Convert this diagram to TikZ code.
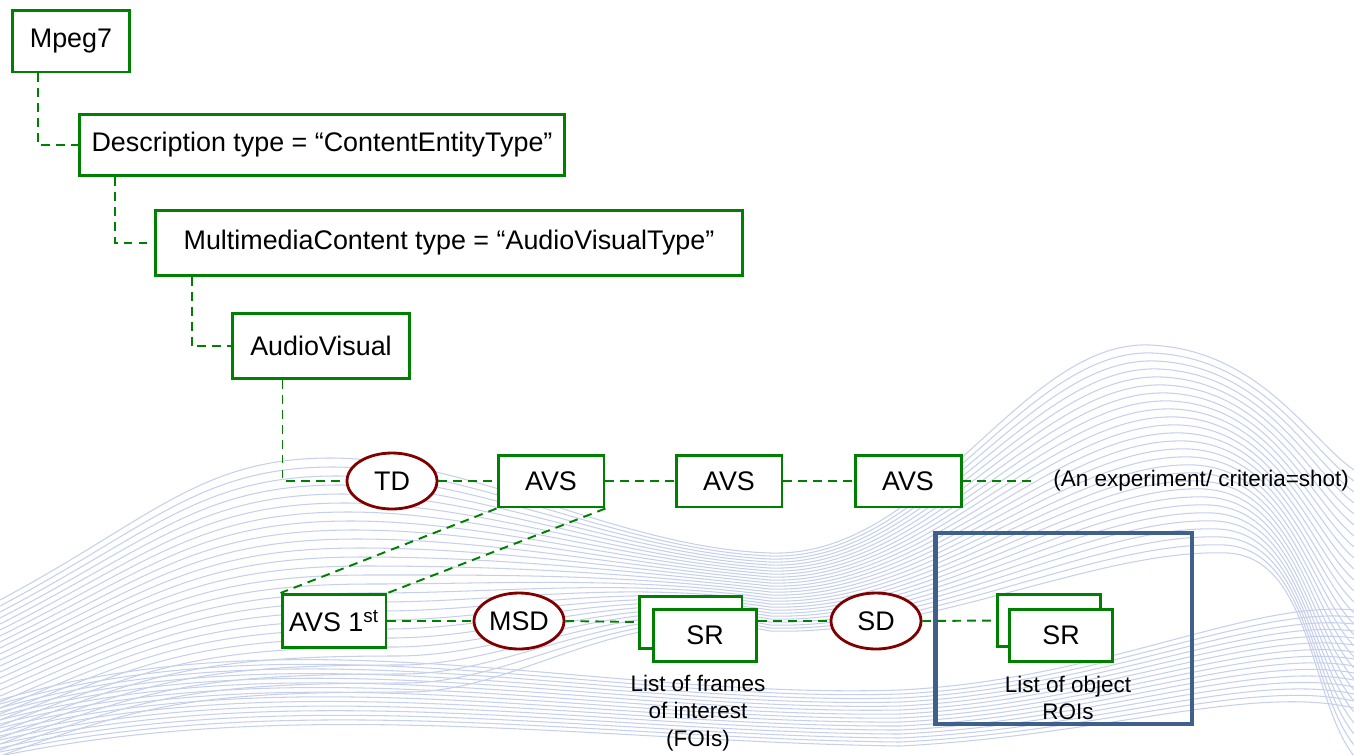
\documentclass[tikz,border=0pt]{standalone}
\usepackage{fontspec}
\setmainfont{Liberation Sans}
\usetikzlibrary{shapes.geometric}
\definecolor{boxgreen}{RGB}{0,128,0}
\definecolor{ellred}{RGB}{128,0,0}
\definecolor{frameblue}{RGB}{64,96,140}
\definecolor{wave}{RGB}{198,208,236}
\tikzset{
  gbox/.style={draw=boxgreen, line width=1.7pt, fill=white, rectangle, inner sep=0pt,
    font=\fontsize{15.3}{18}\selectfont},
  ell/.style={draw=ellred, line width=1.6pt, fill=white, ellipse, inner sep=0pt,
    minimum width=1.8cm, minimum height=1.12cm, font=\fontsize{15.3}{18}\selectfont},
  conn/.style={draw=boxgreen, line width=1.1pt, dash pattern=on 5pt off 3.5pt},
  small/.style={font=\fontsize{12.8}{15.5}\selectfont, align=center, inner sep=0pt},
  wv/.style={draw=wave, line width=0.6pt},
  avsbox/.style={gbox, minimum width=2.12cm, minimum height=1.04cm},
  srbox/.style={gbox, minimum width=2.06cm, minimum height=1.04cm}
}
\begin{document}
\begin{tikzpicture}[x=0.02cm, y=-0.02cm]
\useasboundingbox (0,0) rectangle (1354,754);
% background waves
\begin{scope}
\clip (0,0) rectangle (1354,754);
\foreach \i in {0,...,26}{
  \draw[wv] (0,{600+6*\i}) .. controls (150,{520+7*\i}) and (200,{458+9*\i}) .. ({330+3*\i},{458+9*\i})
    .. controls ({470+2*\i},{458+9*\i}) and (620,{548+2*\i}) .. (770,{553+3*\i})
    .. controls (930,{558+3*\i}) and ({1020+3*\i},{340+8*\i}) .. ({1150+3*\i},{345+8*\i})
    .. controls ({1260+2*\i},{350+8*\i}) and (1310,{440+10*\i}) .. (1354,{470+11*\i});
}
\foreach \i in {0,...,14}{
  \draw[wv] (0,{700+4*\i}) .. controls (300,{610+6*\i}) and (600,{700+3*\i}) .. (900,{690+4*\i})
    .. controls (1100,{680+4*\i}) and (1250,{600+6*\i}) .. (1354,{610+7*\i});
}
\end{scope}
% nodes
\node[gbox, minimum width=2.34cm, minimum height=1.24cm] (mpeg) at (71,41) {Mpeg7};
\node[gbox, minimum width=9.7cm, minimum height=1.22cm] (desc) at (322,145) {Description type = “ContentEntityType”};
\node[gbox, minimum width=11.76cm, minimum height=1.3cm] (mm) at (449,243) {MultimediaContent type = “AudioVisualType”};
\node[gbox, minimum width=3.56cm, minimum height=1.3cm] (av) at (321,346) {AudioVisual};
\node[ell] (td) at (392,481) {TD};
\node[avsbox] (avs1) at (551,481) {AVS};
\node[avsbox] (avs2) at (729,481) {AVS};
\node[avsbox] (avs3) at (908,481) {AVS};
\coordinate (tail) at (1035,481);
\node[small, anchor=west] (note) at (1053,481) {(An experiment/ criteria=shot)};
\node[gbox, minimum width=2.08cm, minimum height=1.06cm] (first) at (334,621) {AVS 1\textsuperscript{st}};
\node[ell] (msd) at (519,621) {MSD};
\node[srbox] (sr1b) at (690.5,622) {};
\node[srbox] (sr1f) at (705,635) {SR};
\node[small, anchor=north] (foi) at (698,675) {List of frames\\of interest\\(FOIs)};
\node[ell] (sd) at (876,621) {SD};
\node[draw=frameblue, line width=2.8pt, minimum width=5.14cm, minimum height=3.82cm, inner sep=0pt] (frame) at (1063.5,628.5) {};
\node[srbox] (sr2b) at (1048.5,620.5) {};
\node[srbox] (sr2f) at (1061,635) {SR};
\node[small, anchor=north] (roi) at (1068,676) {List of object\\ROIs};
% connectors
\draw[conn] ([xshift=0.54cm]mpeg.south west) |- (desc.west);
\draw[conn] ([xshift=0.74cm]desc.south west) |- (mm.west);
\draw[conn] ([xshift=0.76cm]mm.south west) |- (av.west);
\draw[conn] ([xshift=1.04cm]av.south west) |- (td.west);
\draw[conn] (td.east) -- (avs1.west);
\draw[conn] (avs1.east) -- (avs2.west);
\draw[conn] (avs2.east) -- (avs3.west);
\draw[conn] (avs3.east) -- (tail);
\draw[conn] (avs1.south west) -- (first.north west);
\draw[conn] (avs1.south east) -- (first.north east);
\draw[conn] (first.east) -- (msd.west);
\draw[conn] (msd.east) -- (sr1b.west);
\draw[conn] (sr1f.east |- sd.west) -- (sd.west);
\draw[conn] (sd.east) -- (sr2b.west);
\end{tikzpicture}
\end{document}
